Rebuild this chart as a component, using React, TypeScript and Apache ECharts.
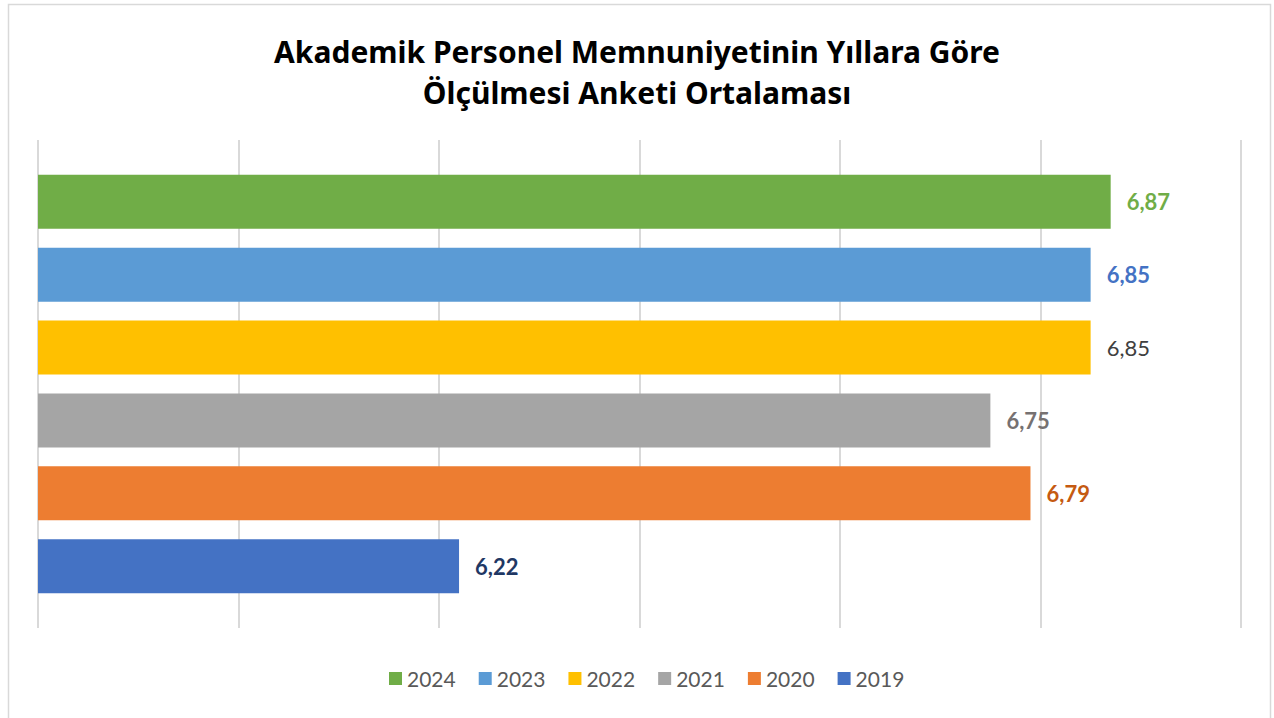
import React, { useEffect, useRef } from "react";
import * as echarts from "echarts";

const years = ["2024", "2023", "2022", "2021", "2020", "2019"];
const values = [6.87, 6.85, 6.85, 6.75, 6.79, 6.22];
const barColors = ["#70AD47", "#5B9BD5", "#FFC000", "#A5A5A5", "#ED7D31", "#4472C4"];
const labelColors = ["#70AD47", "#4472C4", "#404040", "#767171", "#C55A11", "#1F3864"];
const labelBold = [true, true, false, true, true, true];
const titleLines = ["Akademik Personel Memnuniyetinin Yıllara Göre", "Ölçülmesi Anketi Ortalaması"];

export default function App() {
  const ref = useRef<HTMLDivElement>(null);
  useEffect(() => {
    if (!ref.current) return;
    const chart = echarts.init(ref.current, null, { renderer: "svg" });
    const series = years.map((y, i) => ({
      name: y,
      type: "bar",
      data: [values[i]],
      barWidth: 54,
      barGap: "35%",
      itemStyle: { color: barColors[i] },
      label: {
        show: true,
        position: "right",
        distance: 16,
        formatter: (p: any) => String(p.value).replace(".", ","),
        color: labelColors[i],
        fontWeight: labelBold[i] ? "bold" : "normal",
        fontSize: 22,
        fontFamily: "Lato",
      },
    }));
    chart.setOption({
      animation: false,
      backgroundColor: "#ffffff",
      title: {
        text: titleLines.join("\n"),
        left: "center",
        top: 26,
        textStyle: { fontFamily: "Noto Sans", fontWeight: "bold", fontSize: 30, color: "#000000", lineHeight: 41 },
      },
      graphic: [
        {
          type: "rect",
          shape: { x: 8.5, y: 4.5, width: 1262, height: 720 },
          style: { fill: "none", stroke: "#d9d9d9", lineWidth: 1.5 },
          silent: true,
        },
      ],
      legend: {
        data: years,
        top: 663,
        left: 384,
        icon: "rect",
        itemWidth: 13,
        itemHeight: 13,
        itemGap: 23,
        textStyle: { fontFamily: "Lato", fontSize: 21, color: "#595959" },
      },
      grid: { left: 38, right: 33, top: 140, bottom: 90, containLabel: false },
      xAxis: {
        type: "value",
        min: 5.8,
        max: 7.0,
        interval: 0.2,
        axisLabel: { show: false },
        axisLine: { show: false },
        axisTick: { show: false },
        splitLine: { show: true, lineStyle: { color: "#d9d9d9", width: 2 } },
      },
      yAxis: {
        type: "category",
        data: [""],
        inverse: true,
        axisLine: { show: false },
        axisTick: { show: false },
        axisLabel: { show: false },
      },
      series,
    });
    return () => chart.dispose();
  }, []);
  return <div ref={ref} style={{ position: "fixed", left: 0, top: 0, width: 1274, height: 718 }} />;
}
